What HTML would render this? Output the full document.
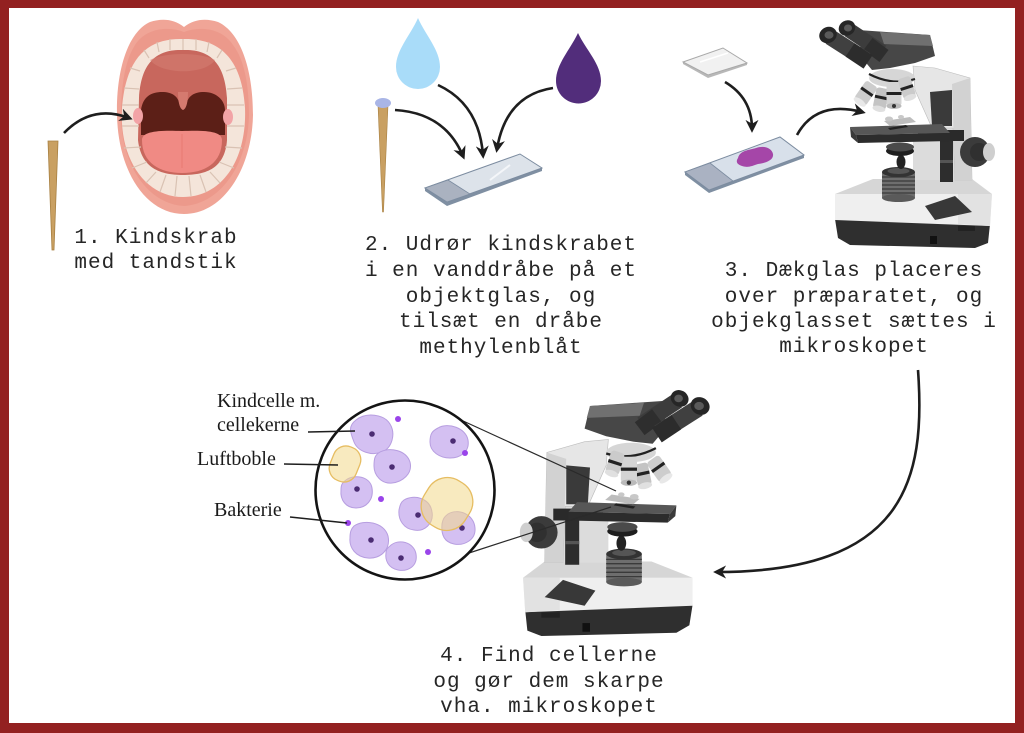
<!DOCTYPE html>
<html><head><meta charset="utf-8">
<style>
html,body{margin:0;padding:0;background:#932121;}
#wrap{position:relative;width:1024px;height:733px;overflow:hidden;background:#932121;}
svg{position:absolute;left:0;top:0;}
.t{font-family:"Liberation Mono",monospace;font-size:21px;letter-spacing:1px;fill:#262626;}
.s{font-family:"Liberation Serif",serif;font-size:20px;fill:#1a1a1a;}
</style></head><body><div id="wrap">
<svg width="1024" height="733" viewBox="0 0 1024 733" xmlns="http://www.w3.org/2000/svg">
<defs>
<marker id="ah" viewBox="0 0 10 10" markerWidth="13" markerHeight="13" refX="7" refY="5" orient="auto" markerUnits="userSpaceOnUse">
<path d="M0,0 L10,5 L0,10 L3,5 Z" fill="#1e1e1e"/>
</marker>
<g id="mic">
 <!-- base -->
 <polygon points="835,219 990,224 988,243 975,248 850,245 838,238" fill="#2f2f2f"/>
 <polygon points="835,194 992,194 990,226 835,220" fill="#efefef"/>
 <polygon points="958,194 992,194 990,226 958,224" fill="#e2e2e2"/>
 <polygon points="835,194 873,179 972,179 992,194" fill="#d6d6d6"/>
 <polygon points="925,206 955,196 972,212 935,220" fill="#383838"/>
 <rect x="958" y="226" width="17" height="5" fill="#222"/>
 <rect x="930" y="236" width="7" height="8" fill="#111"/>
 <!-- arm -->
 <rect x="913" y="128" width="42" height="52" fill="#dcdcdc"/>
 <polygon points="913,66 935,68 970,78 972,180 955,180 953,128 932,128 915,90" fill="#e6e6e6" stroke="#bdbdbd" stroke-width="0.6"/>
 <polygon points="952,84 970,78 972,180 955,180" fill="#d2d2d2"/>
 <polygon points="930,92 952,90 952,126 932,126" fill="#3a3a3a"/>
 <!-- lamp -->
 <rect x="882" y="172" width="33" height="26" fill="#6e6e6e"/>
 <g stroke="#3a3a3a" stroke-width="1.2"><line x1="882" y1="177" x2="915" y2="177"/><line x1="882" y1="181" x2="915" y2="181"/><line x1="882" y1="185" x2="915" y2="185"/><line x1="882" y1="189" x2="915" y2="189"/><line x1="882" y1="193" x2="915" y2="193"/></g>
 <ellipse cx="898.5" cy="198" rx="16.5" ry="4" fill="#5a5a5a"/>
 <ellipse cx="898.5" cy="172" rx="16.5" ry="5" fill="#333"/>
 <ellipse cx="898.5" cy="171" rx="11" ry="3" fill="#555"/>
 <ellipse cx="901" cy="162" rx="4.5" ry="7" fill="#222"/>
 <!-- condenser -->
 <ellipse cx="900" cy="151" rx="14" ry="5" fill="#1e1e1e"/>
 <ellipse cx="900" cy="147" rx="14" ry="4.5" fill="#4a4a4a"/>
 <!-- fine focus column -->
 <rect x="940" y="140" width="13" height="42" fill="#2d2d2d"/>
 <rect x="940" y="160" width="13" height="3" fill="#555"/>
 <!-- stage -->
 <rect x="918" y="130" width="46" height="11" fill="#2a2a2a"/>
 <polygon points="850,127 942,124 950,133 856,135" fill="#575757"/>
 <polygon points="856,135 950,133 950,141 858,143" fill="#2c2c2c"/>
 <polygon points="850,127 856,135 858,143 851,137" fill="#3a3a3a"/>
 <polygon points="884,121 910,117 916,122 890,126" fill="#bdbdbd"/>
 <polygon points="888,128 906,125 908,127 890,130" fill="#222"/>
 <ellipse cx="889" cy="119" rx="4" ry="2.5" fill="#c8c8c8"/>
 <ellipse cx="901" cy="117" rx="3" ry="2" fill="#c8c8c8"/>
 <!-- coarse knob -->
 <circle cx="975" cy="152" r="15" fill="#3b3b3b"/>
 <circle cx="979" cy="152" r="9" fill="#303030"/>
 <ellipse cx="989" cy="152" rx="6" ry="9" fill="#cfcfcf"/>
 <!-- head -->
 <polygon points="858,30 930,35 935,56 915,63 890,68 872,70 862,58" fill="#474747"/>
 <polygon points="880,32 930,35 933,46 884,44" fill="#707070"/>
 <!-- nosepiece & objectives -->
 <ellipse cx="892" cy="78" rx="23" ry="9" fill="#d6d6d6"/>
 <path d="M869,74 Q892,86 915,79" stroke="#222" stroke-width="2.2" fill="none"/>
 <g transform="rotate(35 866 93)"><rect x="859" y="82" width="14" height="22" rx="3" fill="#cdcdcd"/><rect x="859" y="90" width="14" height="3" fill="#222"/><ellipse cx="866" cy="104" rx="7" ry="3" fill="#e8e8e8"/></g>
 <g transform="rotate(12 881 99)"><rect x="874.5" y="88" width="13" height="21" rx="3" fill="#c4c4c4"/><rect x="874.5" y="96" width="13" height="3" fill="#222"/><ellipse cx="881" cy="109" rx="6.5" ry="3" fill="#e0e0e0"/></g>
 <g transform="rotate(0 894 96)"><rect x="886.5" y="82" width="15" height="24" rx="3" fill="#d4d4d4"/><rect x="886.5" y="92" width="15" height="3" fill="#222"/><ellipse cx="894" cy="106" rx="7.5" ry="3" fill="#bbb"/><circle cx="894" cy="106" r="2" fill="#333"/></g>
 <g transform="rotate(-18 907 88)"><rect x="900.5" y="77" width="13" height="21" rx="3" fill="#cbcbcb"/><rect x="900.5" y="86" width="13" height="3" fill="#222"/><ellipse cx="907" cy="98" rx="6.5" ry="3" fill="#e0e0e0"/></g>
 <!-- eyepieces -->
 <line x1="849" y1="30" x2="882" y2="52" stroke="#3c3c3c" stroke-width="15"/>
 <line x1="868" y1="44" x2="884" y2="56" stroke="#2e2e2e" stroke-width="15"/>
 <ellipse cx="847" cy="28" rx="8.5" ry="7.5" fill="#262626" transform="rotate(-30 847 28)"/>
 <ellipse cx="848" cy="28" rx="4" ry="3.5" fill="#5a5a5a"/>
 <line x1="830" y1="37" x2="866" y2="60" stroke="#404040" stroke-width="16"/>
 <line x1="850" y1="50" x2="868" y2="62" stroke="#2c2c2c" stroke-width="16"/>
 <ellipse cx="828" cy="35" rx="9" ry="8" fill="#262626" transform="rotate(-30 828 35)"/>
 <ellipse cx="829" cy="35" rx="4.5" ry="3.8" fill="#5a5a5a"/>
</g>
</defs>

<!-- white panel -->
<rect x="9" y="8" width="1006" height="715" fill="#ffffff"/>

<!-- ===== Step 1: mouth ===== -->
<path d="M184,27 C174,19 162,18 150,22 C128,32 116,70 117,115 C118,170 145,214 184,214 C224,214 252,168 253,115 C253,68 240,32 218,22 C206,18 194,19 184,27 Z" fill="#f0a597"/>
<path d="M184,32 C168,26 146,28 135,45 C124,62 121,90 121,115 C121,165 148,204 184,206 C220,204 248,165 249,115 C249,88 245,60 233,45 C222,28 200,26 184,32 Z" fill="#ec998b"/>
<path d="M183,39 C150,38 126,55 122,108 C119,160 146,197 183,197 C222,197 247,160 245,108 C242,55 216,38 183,39 Z" fill="#f4e5da"/>
<!-- cavity -->
<path d="M183,50 C156,49 141,63 139,98 L138,140 C141,168 160,175 183,175 C207,175 225,168 227,140 L227,98 C225,63 210,49 183,50 Z" fill="#c8675d"/>
<path d="M150,60 C165,52 200,52 215,60 C205,75 162,75 150,60 Z" fill="#d47d71" opacity="0.6"/>
<!-- throat -->
<path d="M141,135 L141,110 C143,96 152,92 162,92 C172,92 177,96 179,102 L187,102 C189,96 194,92 204,92 C216,92 225,100 225,110 L225,135 Z" fill="#5c1f17"/>
<path d="M178,92 C178,103 180,109 183,110 C186,109 188,103 188,92 Z" fill="#d57a6f"/>
<ellipse cx="138" cy="116" rx="5" ry="8" fill="#f2a3a6"/>
<ellipse cx="228" cy="117" rx="5" ry="8" fill="#f2a3a6"/>
<!-- tongue -->
<path d="M142,140 C142,131 160,130 182,131 C205,130 222,131 222,140 C222,163 205,173 182,173 C160,173 142,163 142,140 Z" fill="#f08a84"/>
<line x1="182" y1="134" x2="182" y2="168" stroke="#e87c76" stroke-width="1.2"/>
<!-- teeth separators -->
<g stroke="#d9c2b3" stroke-width="1.2" fill="none">
<line x1="170" y1="39" x2="170" y2="50"/><line x1="183" y1="39" x2="183" y2="50"/><line x1="196" y1="39" x2="196" y2="50"/>
<line x1="157" y1="42" x2="159" y2="52"/><line x1="209" y1="42" x2="207" y2="52"/>
<line x1="144" y1="50" x2="149" y2="58"/><line x1="222" y1="50" x2="217" y2="58"/>
<line x1="130" y1="68" x2="140" y2="71"/><line x1="236" y1="68" x2="226" y2="71"/>
<line x1="124" y1="88" x2="139" y2="89"/><line x1="242" y1="88" x2="227" y2="89"/>
<line x1="122" y1="105" x2="139" y2="105"/><line x1="244" y1="105" x2="227" y2="105"/>
<line x1="122" y1="126" x2="139" y2="126"/><line x1="244" y1="126" x2="227" y2="126"/>
<line x1="124" y1="148" x2="141" y2="147"/><line x1="242" y1="148" x2="225" y2="147"/>
<line x1="132" y1="168" x2="147" y2="162"/><line x1="234" y1="168" x2="219" y2="162"/>
<line x1="146" y1="183" x2="156" y2="172"/><line x1="220" y1="183" x2="210" y2="172"/>
<line x1="160" y1="192" x2="166" y2="175"/><line x1="206" y1="192" x2="200" y2="175"/>
<line x1="175" y1="196" x2="177" y2="176"/><line x1="191" y1="196" x2="189" y2="176"/>
</g>
<!-- toothpick 1 -->
<polygon points="48,141 58,141 54,250 52,250" fill="#c9a062" stroke="#a88042" stroke-width="0.8"/>
<path d="M64,133 Q92,104 129,118" stroke="#1e1e1e" stroke-width="2.6" fill="none" marker-end="url(#ah)"/>
<text class="t" x="156" y="243" text-anchor="middle">1. Kindskrab</text>
<text class="t" x="156" y="268" text-anchor="middle">med tandstik</text>

<!-- ===== Step 2 ===== -->
<path d="M418,18 C426,36 440,50 440,67 A22,22 0 0 1 396,67 C396,50 410,36 418,18 Z" fill="#a9dcf9"/>
<path d="M578,33 C586,50 601,64 601,81 A22.5,22.5 0 0 1 556,81 C556,64 570,50 578,33 Z" fill="#522d7b"/>
<polygon points="378,105 388,105 383.5,212 382.5,212" fill="#c9a062" stroke="#a88042" stroke-width="0.6"/>
<ellipse cx="383" cy="103" rx="8" ry="5" fill="#a9b5e6"/>
<path d="M395,110 Q445,113 463,156" stroke="#1e1e1e" stroke-width="2.6" fill="none" marker-end="url(#ah)"/>
<path d="M438,85 Q479,104 483,155" stroke="#1e1e1e" stroke-width="2.6" fill="none" marker-end="url(#ah)"/>
<path d="M553,88 Q506,95 497,149" stroke="#1e1e1e" stroke-width="2.6" fill="none" marker-end="url(#ah)"/>
<!-- slide 2 -->
<polygon points="425,188 447,202 542,168 542,171 447,206 425,191" fill="#7f8fa2"/>
<polygon points="425,188 520,154 542,168 447,202" fill="#dde3ea" stroke="#7c8ca0" stroke-width="1"/>
<polygon points="425,188 448,180 470,194 447,202" fill="#aab2c0" stroke="#7c8ca0" stroke-width="0.8"/>
<line x1="490" y1="180" x2="510" y2="165" stroke="#f4f6f9" stroke-width="2"/>
<text class="t" x="501" y="250" text-anchor="middle">2. Udrør kindskrabet</text>
<text class="t" x="501" y="276" text-anchor="middle">i en vanddråbe på et</text>
<text class="t" x="501" y="302" text-anchor="middle">objektglas, og</text>
<text class="t" x="501" y="327" text-anchor="middle">tilsæt en dråbe</text>
<text class="t" x="501" y="353" text-anchor="middle">methylenblåt</text>

<!-- ===== Step 3 ===== -->
<polygon points="683,62 708,75 747,63 747,65 708,78 683,64" fill="#b8b8b8"/>
<polygon points="683,62 723,48 747,63 708,75" fill="#f1f1f1" stroke="#a9a9a9" stroke-width="1"/>
<line x1="700" y1="62" x2="728" y2="53" stroke="#ffffff" stroke-width="1.5"/>
<path d="M725,82 Q752,98 752,129" stroke="#1e1e1e" stroke-width="2.6" fill="none" marker-end="url(#ah)"/>
<path d="M797,135 Q816,100 862,112" stroke="#1e1e1e" stroke-width="2.6" fill="none" marker-end="url(#ah)"/>
<polygon points="685,172 709,190 804,155 804,158 709,193 685,175" fill="#7f8fa2"/>
<polygon points="685,172 780,137 804,155 709,190" fill="#d8e0ea" stroke="#7c8ca0" stroke-width="1"/>
<polygon points="685,172 710,163 733,181 709,190" fill="#aab2c2" stroke="#7c8ca0" stroke-width="0.8"/>
<path d="M738,158 C740,150 750,150 756,148 C764,145 772,148 773,154 C774,160 766,163 758,164 C752,166 748,168 742,166 C736,164 736,161 738,158 Z" fill="#a546a8"/>
<use href="#mic"/>
<text class="t" x="854" y="276" text-anchor="middle">3. Dækglas placeres</text>
<text class="t" x="854" y="302" text-anchor="middle">over præparatet, og</text>
<text class="t" x="854" y="327" text-anchor="middle">objekglasset sættes i</text>
<text class="t" x="854" y="352" text-anchor="middle">mikroskopet</text>

<!-- big arrow -->
<path d="M918,370 C926,480 905,572 717,572" stroke="#1e1e1e" stroke-width="2.6" fill="none" marker-end="url(#ah)"/>

<!-- ===== Step 4 ===== -->
<use href="#mic" transform="matrix(-1.08,0,0,1.08,1594.4,368.2)"/>
<line x1="461" y1="420" x2="616" y2="491" stroke="#2a2a2a" stroke-width="1.2"/>
<line x1="469" y1="553" x2="611" y2="507" stroke="#2a2a2a" stroke-width="1.2"/>
<circle cx="405" cy="490" r="89.5" fill="#ffffff" stroke="#141414" stroke-width="2.6"/>
<g fill="#d4c0f2" stroke="#b79ee0" stroke-width="1">
<path d="M356,420 C366,412 384,414 390,424 C396,434 392,448 382,452 C372,456 358,452 354,442 C350,432 348,426 356,420 Z"/>
<path d="M438,428 C448,422 466,428 468,440 C470,452 460,458 450,458 C440,458 430,452 430,442 C430,434 432,431 438,428 Z"/>
<path d="M380,452 C390,447 406,450 410,462 C413,474 402,482 392,483 C382,484 374,476 374,466 C374,458 375,455 380,452 Z"/>
<path d="M346,480 C354,474 370,476 372,488 C374,500 366,508 356,508 C346,508 340,500 341,490 C341,485 342,483 346,480 Z"/>
<path d="M404,500 C414,494 430,498 432,512 C434,524 424,532 414,530 C404,529 398,520 399,510 C400,505 401,502 404,500 Z"/>
<path d="M448,514 C458,508 474,514 475,528 C476,540 464,546 454,544 C444,542 441,534 442,524 C443,519 444,517 448,514 Z"/>
<path d="M354,526 C364,519 384,522 388,536 C391,550 380,559 368,558 C356,557 349,548 350,538 C350,532 351,529 354,526 Z"/>
<path d="M390,546 C398,538 414,542 416,554 C418,566 408,572 398,570 C388,568 385,560 386,553 C386,550 387,548 390,546 Z"/>
</g>
<g fill="#4b2c73">
<circle cx="372" cy="434" r="2.8"/><circle cx="453" cy="441" r="2.8"/><circle cx="392" cy="467" r="2.8"/><circle cx="357" cy="489" r="2.8"/><circle cx="418" cy="515" r="2.8"/><circle cx="462" cy="528" r="2.8"/><circle cx="371" cy="540" r="2.8"/><circle cx="401" cy="558" r="2.8"/>
</g>
<g fill="#9a44ea">
<circle cx="398" cy="419" r="3"/><circle cx="465" cy="453" r="3"/><circle cx="381" cy="499" r="3"/><circle cx="348" cy="523" r="3"/><circle cx="428" cy="552" r="3"/>
</g>
<g fill="#f3d98a" fill-opacity="0.55" stroke="#e6bd62" stroke-width="1.3">
<rect x="331" y="446" width="28" height="36" rx="13" transform="rotate(22 345 464)"/>
<rect x="423" y="478" width="48" height="52" rx="22" transform="rotate(32 447 504)"/>
</g>
<g stroke="#1e1e1e" stroke-width="1.6">
<line x1="308" y1="432" x2="355" y2="431"/>
<line x1="284" y1="464" x2="338" y2="465"/>
<line x1="290" y1="517" x2="347" y2="523"/>
</g>
<text class="s" x="217" y="407">Kindcelle m.</text>
<text class="s" x="217" y="431">cellekerne</text>
<text class="s" x="197" y="465">Luftboble</text>
<text class="s" x="214" y="516">Bakterie</text>
<text class="t" x="549" y="661" text-anchor="middle">4. Find cellerne</text>
<text class="t" x="549" y="687" text-anchor="middle">og gør dem skarpe</text>
<text class="t" x="549" y="712" text-anchor="middle">vha. mikroskopet</text>
</svg>
</div></body></html>
